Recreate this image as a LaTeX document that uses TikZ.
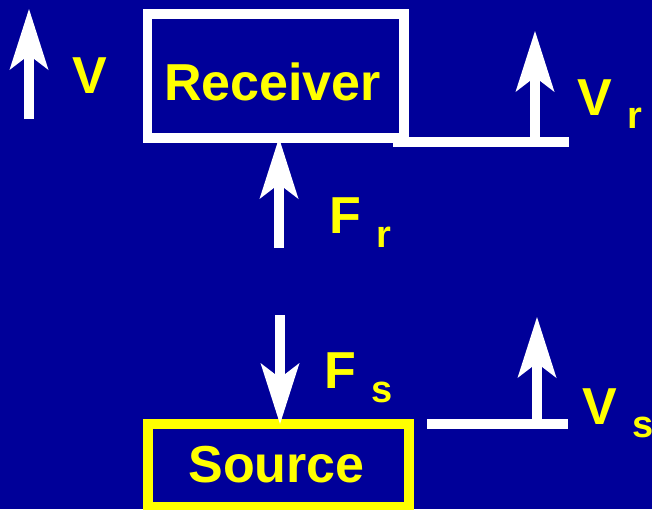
\documentclass[tikz,border=0pt]{standalone}
\usepackage{fontspec}
\setmainfont{Liberation Sans}
\usetikzlibrary{arrows.meta}
\definecolor{bgblue}{HTML}{000099}
\definecolor{lab}{HTML}{FFFF00}
\tikzset{
  bigtxt/.style={text=lab, inner sep=0pt, outer sep=0pt, anchor=base west, font=\bfseries\fontsize{52}{60}\selectfont},
  subtxt/.style={text=lab, inner sep=0pt, outer sep=0pt, anchor=base west, font=\bfseries\fontsize{38}{44}\selectfont},
  arr/.style={draw=white, line width=10pt, -{Stealth[length=61pt, width=39pt, inset=15pt, line width=0pt]}},
  groundline/.style={draw=white, line width=10pt},
  boxw/.style={draw=white, line width=9.5pt, inner sep=0pt, outer sep=0pt, rectangle},
  boxy/.style={draw=lab, line width=10pt, inner sep=0pt, outer sep=0pt, rectangle}
}
\begin{document}
\begin{tikzpicture}[x=1pt, y=-1pt]
\fill[bgblue] (0,0) rectangle (652,509);
\useasboundingbox (0,0) rectangle (652,509);
% receiver
\node[boxw, minimum width=256.5pt, minimum height=124pt] (receiver) at (275.75,76) {};
\node[bigtxt, anchor=base] (rtext) at (272.5,100) {Receiver};
% source
\node[boxy, minimum width=261pt, minimum height=83pt] (source) at (278.5,465.5) {};
\node[bigtxt, anchor=base] (stext) at (276.5,482) {Source};
% V arrow
\coordinate (vbase) at (29,119);
\coordinate (vtip) at (29,9);
\draw[arr] (vbase) -- (vtip);
\node[bigtxt] (vlab) at (72,93) {V};
% receiver ground line and Vr
\coordinate (rl1) at (393,142);
\coordinate (rl2) at (569,142);
\draw[groundline] (rl1) -- (rl2);
\coordinate (vrbase) at (535,137);
\coordinate (vrtip) at (535,31);
\draw[arr] (vrbase) -- (vrtip);
\node[bigtxt] (vrlab) at (577,115) {V};
\node[subtxt] (vrsub) at (627,128) {r};
% Fr
\coordinate (frbase) at (279,248);
\draw[arr] (frbase) -- (receiver.south -| frbase);
\node[bigtxt] (frlab) at (329,233) {F};
\node[subtxt] (frsub) at (376.5,247) {r};
% Fs
\coordinate (fsbase) at (280,315);
\draw[arr] (fsbase) -- (source.north -| fsbase);
\node[bigtxt] (fslab) at (324,388) {F};
\node[subtxt] (fssub) at (371,402) {s};
% source ground line and Vs
\coordinate (sl1) at (427,424);
\coordinate (sl2) at (568,424);
\draw[groundline] (sl1) -- (sl2);
\coordinate (vsbase) at (537,419);
\coordinate (vstip) at (537,317);
\draw[arr] (vsbase) -- (vstip);
\node[bigtxt] (vslab) at (582,424) {V};
\node[subtxt] (vssub) at (632,437) {s};
\end{tikzpicture}
\end{document}
